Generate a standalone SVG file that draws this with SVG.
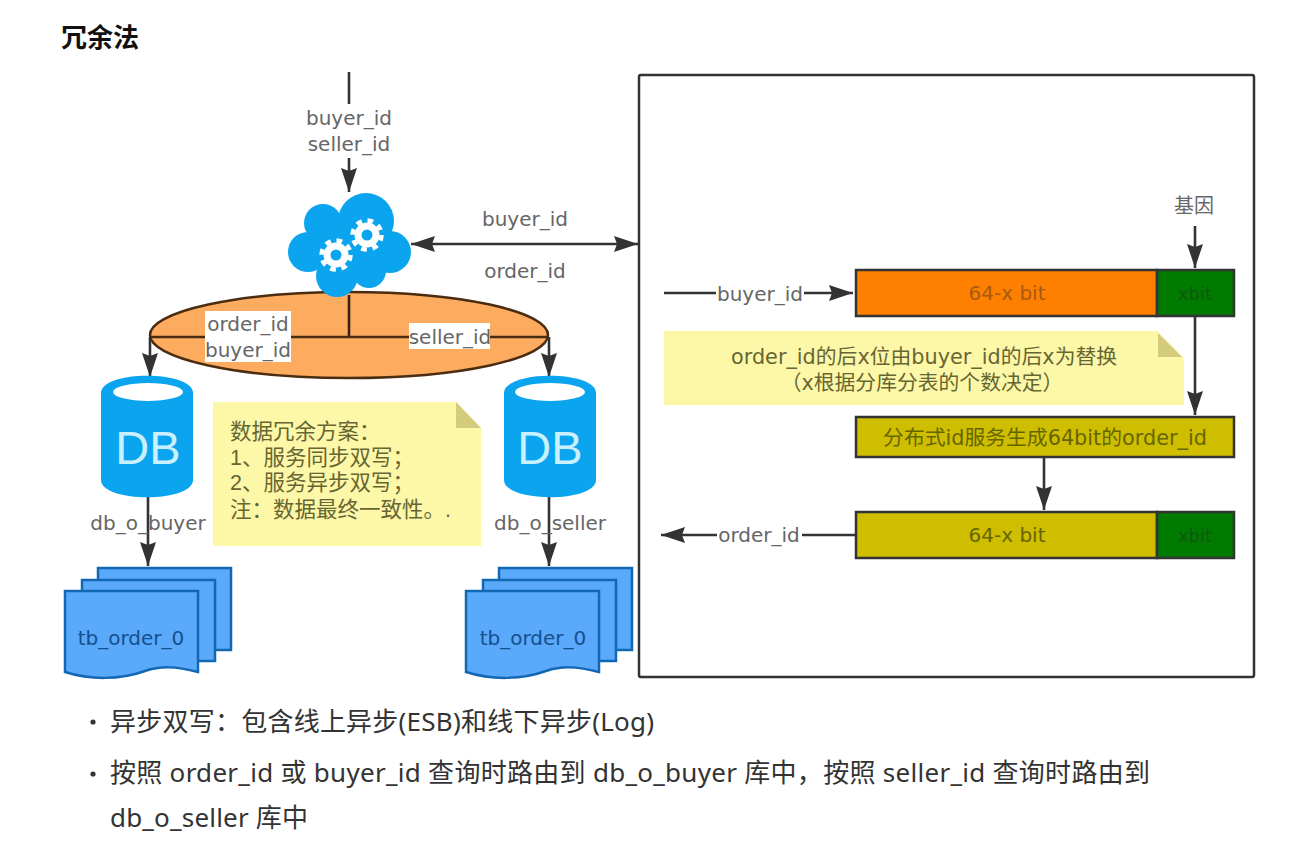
<svg xmlns="http://www.w3.org/2000/svg" width="1296" height="857" viewBox="0 0 1296 857">
<style>
text{font-family:"Open Sans","Noto Sans CJK SC",sans-serif}
.l{font-size:20px;fill:#666;text-anchor:middle;font-family:"DejaVu Sans","Noto Sans CJK SC",sans-serif}
.c{fill:none;stroke:#333;stroke-width:2.6}
.bar{stroke:#333;stroke-width:2.5}
.pg{fill:#5aa9fa;stroke:#1268b3;stroke-width:2.5}
.note{fill:#fdf7a8}
.fold{fill:#d4cb7c}
.bt{font-size:20px;fill:#5c5c00;text-anchor:middle;font-family:"DejaVu Sans","Noto Sans CJK SC",sans-serif}
.n{font-size:21.5px;fill:#666633;font-family:"Liberation Sans","Noto Sans CJK SC",sans-serif}
.m{font-size:20.8px;fill:#666633;text-anchor:middle;font-family:"DejaVu Sans","Noto Sans CJK SC",sans-serif}
.b{font-size:26px;fill:#333;font-family:"Noto Sans","Noto Sans CJK SC",sans-serif}
.dbt{font-size:47px;fill:#c8f0ff;text-anchor:middle;font-family:"Liberation Sans",sans-serif}
.tb{font-size:20px;fill:#14508f;text-anchor:middle;font-family:"DejaVu Sans",sans-serif}
.x{fill:#0d5a0d;font-size:18px}
</style>
<defs>
<marker id="a" markerUnits="userSpaceOnUse" markerWidth="24" markerHeight="18" refX="24" refY="9" orient="auto-start-reverse"><path d="M0 1L24 9L0 17L3 9Z" fill="#333"/></marker>
<g id="pages">
<path class="pg" d="M48 0H181V82H48Z"/>
<path class="pg" d="M32 12H165V93H32Z"/>
<path class="pg" d="M15 23H148V104C125 98 110 98 95 103C70 112 40 112 15 104Z"/>
</g>
<g id="gear"><circle r="9" fill="none" stroke="#fff" stroke-width="7"/><circle r="14.5" fill="none" stroke="#fff" stroke-width="4.5" stroke-dasharray="5.7 5.7"/></g>
</defs>
<rect width="1296" height="857" fill="#fff"/>
<text id="title" x="61" y="47" font-size="26" font-weight="700" fill="#111" style="font-family:'Noto Sans CJK SC',sans-serif">冗余法</text>

<g id="frame"><rect x="639" y="75" width="615" height="602" rx="2" fill="#fff" stroke="#333" stroke-width="2.5"/></g>

<g id="ellipse"><ellipse cx="349" cy="335" rx="199" ry="43" fill="#fdab5f" stroke="#4a2c10" stroke-width="2.5"/></g>

<g id="connectors">
<path class="c" d="M349 72V104"/>
<path class="c" d="M349 158V192" marker-end="url(#a)"/>
<path class="c" d="M411 244H638" marker-start="url(#a)" marker-end="url(#a)"/>
<path class="c" d="M349 295V337" style="stroke:#3a2410"/>
<path class="c" d="M150 337H549" style="stroke:#4a2c10"/>
<path class="c" d="M150 337V377" marker-end="url(#a)"/>
<path class="c" d="M549 337V377" marker-end="url(#a)"/>
<path class="c" d="M148 497V566" marker-end="url(#a)"/>
<path class="c" d="M549 497V566" marker-end="url(#a)"/>
<path class="c" d="M664 293H853" marker-end="url(#a)"/>
<path class="c" d="M1195 226V268" marker-end="url(#a)"/>
<path class="c" d="M1195 317V415" marker-end="url(#a)"/>
<path class="c" d="M1044 458V510" marker-end="url(#a)"/>
<path class="c" d="M855 535H661" marker-end="url(#a)"/>
</g>

<g id="cloud">
<g fill="#0ba4ee">
<circle cx="323" cy="223" r="19"/>
<circle cx="366" cy="221" r="28"/>
<circle cx="308" cy="252" r="20"/>
<circle cx="390" cy="252" r="21"/>
<circle cx="337" cy="276" r="21"/>
<circle cx="369" cy="271" r="17"/>
<circle cx="350" cy="248" r="32"/>
</g>
<use href="#gear" x="336" y="255"/>
<use href="#gear" x="367" y="235"/>
</g>

<g id="db-buyer">
<path fill="#0ba4ee" d="M101 393C101 370 193 370 193 393V480C193 503 101 503 101 480Z"/>
<ellipse cx="148" cy="392" rx="35" ry="9" fill="#fff"/>
<text class="dbt" x="148" y="464">DB</text>
</g>
<g id="db-seller">
<path fill="#0ba4ee" d="M504 393C504 370 596 370 596 393V480C596 503 504 503 504 480Z"/>
<ellipse cx="550" cy="392" rx="35" ry="9" fill="#fff"/>
<text class="dbt" x="550" y="464">DB</text>
</g>

<g id="pages-buyer"><use href="#pages" x="50" y="568"/><text class="tb" x="131" y="645">tb_order_0</text></g>
<g id="pages-seller"><use href="#pages" x="451" y="568"/><text class="tb" x="533" y="645">tb_order_0</text></g>

<g id="note-redundancy">
<path class="note" d="M213 402H456L481 428V546H213Z"/>
<path class="fold" d="M456 402L481 428H456Z"/>
<text class="n"><tspan x="230" y="439">数据冗余方案：</tspan><tspan x="230" y="465">1、服务同步双写；</tspan><tspan x="230" y="490">2、服务异步双写；</tspan><tspan x="230" y="517">注：数据最终一致性。.</tspan></text>
</g>

<g id="labels">
<text class="l" x="349" y="125">buyer_id</text>
<text class="l" x="349" y="151">seller_id</text>
<text class="l" x="525" y="226">buyer_id</text>
<text class="l" x="525" y="278">order_id</text>
<rect x="205" y="311" width="86" height="51" fill="#fff"/>
<text class="l" x="248" y="331">order_id</text>
<text class="l" x="248" y="357">buyer_id</text>
<rect x="409" y="323" width="81" height="26" fill="#fff"/>
<text class="l" x="450" y="344">seller_id</text>
<text class="l" x="148" y="530">db_o_buyer</text>
<text class="l" x="550" y="530">db_o_seller</text>
<rect x="716" y="283" width="88" height="22" fill="#fff"/>
<text class="l" x="760" y="301">buyer_id</text>
<rect x="717" y="525" width="85" height="22" fill="#fff"/>
<text class="l" x="759" y="542">order_id</text>
<text x="1194" y="213" font-size="20" fill="#666" text-anchor="middle" style="font-family:'Noto Sans CJK SC',sans-serif">基因</text>
</g>

<g id="bar-top">
<rect class="bar" x="856" y="270" width="301" height="46" fill="#ff8000"/>
<rect class="bar" x="1157" y="270" width="77" height="46" fill="#007b00"/>
<text class="bt" x="1007" y="300" style="fill:#a85a10">64-x bit</text>
<text class="bt x" x="1195" y="300">xbit</text>
</g>
<g id="note-replace">
<path class="note" d="M664 331H1157L1184 358V405H664Z"/>
<path class="fold" d="M1158 333L1182 357H1158Z"/>
<text class="m" x="924" y="364">order_id的后x位由buyer_id的后x为替换</text>
<text class="m" x="922" y="390">（x根据分库分表的个数决定）</text>
</g>
<g id="bar-mid">
<rect class="bar" x="856" y="417" width="378" height="40" fill="#cfbd00"/>
<text class="m" x="1045" y="445" style="fill:#666600">分布式id服务生成64bit的order_id</text>
</g>
<g id="bar-bottom">
<rect class="bar" x="856" y="512" width="301" height="46" fill="#cfbd00"/>
<rect class="bar" x="1157" y="512" width="77" height="46" fill="#007b00"/>
<text class="bt" x="1007" y="542" style="fill:#666600">64-x bit</text>
<text class="bt x" x="1195" y="542">xbit</text>
</g>

<g id="bullets">
<circle cx="93" cy="722" r="2.6" fill="#333"/>
<text class="b" x="110" y="731" textLength="544">异步双写：包含线上异步(ESB)和线下异步(Log)</text>
<circle cx="93" cy="774" r="2.6" fill="#333"/>
<text class="b" x="110" y="782" textLength="1040">按照 order_id 或 buyer_id 查询时路由到 db_o_buyer 库中，按照 seller_id 查询时路由到</text>
<text class="b" x="110" y="827" textLength="198">db_o_seller 库中</text>
</g>
</svg>
